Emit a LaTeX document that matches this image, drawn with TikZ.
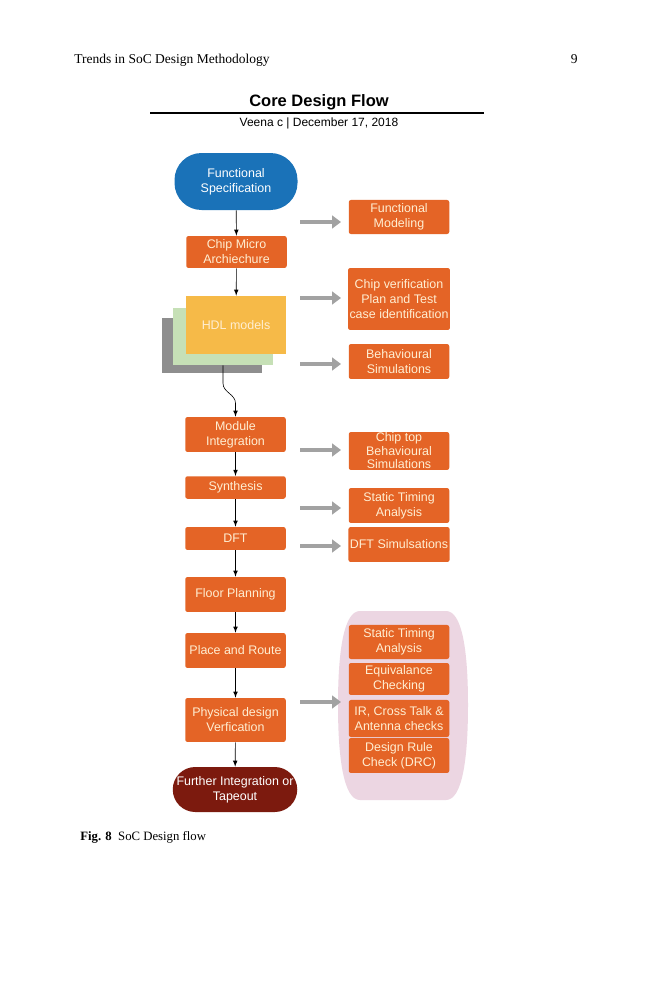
\documentclass[tikz,border=0pt]{standalone}
\usepackage{fontspec}
\setmainfont{Liberation Serif}
\setsansfont{Liberation Sans}
\usetikzlibrary{arrows,arrows.meta}

\definecolor{specblue}{RGB}{26,114,184}
\definecolor{steporange}{RGB}{228,100,38}
\definecolor{tapered}{RGB}{124,26,14}
\definecolor{hdlyellow}{RGB}{246,186,72}
\definecolor{hdlgreen}{RGB}{198,224,182}
\definecolor{hdlgray}{RGB}{142,142,142}
\definecolor{checkpink}{RGB}{236,214,226}
\definecolor{arrowgray}{RGB}{162,162,162}
\definecolor{boxtext}{RGB}{255,238,210}

\tikzset{
  boxfont/.style={font=\sffamily\fontsize{8.3}{10}\selectfont},
  stepbox/.style={boxfont, fill=steporange, rounded corners=1.5pt, text=boxtext,
    align=center, minimum width=67pt, inner sep=1pt},
  endbox/.style={boxfont, text=white, align=center, minimum width=82pt,
    minimum height=38pt, rounded corners=18pt, inner sep=1pt},
  flow/.style={-latex, thin},
  grayarrow/.style={draw=arrowgray, line width=2.3pt, -{Triangle[width=8.5pt,length=6pt]}},
}

\begin{document}
\begin{tikzpicture}[x=0.6667pt, y=-0.6667pt]
\useasboundingbox[fill=white] (0,0) rectangle (659,1000);

% PAGE HEAD
\node[anchor=base west, font=\fontsize{9}{11}\selectfont] (runhead) at (69,64) {Trends in SoC Design Methodology};
\node[anchor=base east, font=\fontsize{9}{11}\selectfont] (pageno) at (583,64) {9};

% TITLE
\node[font=\sffamily\bfseries\fontsize{11}{13}\selectfont] (title) at (319,102) {Core Design Flow};
\draw[line width=0.9pt] (150,113) -- (484,113);
\node[font=\sffamily\fontsize{8}{10}\selectfont] (author) at (319,123) {Veena c | December 17, 2018};

% MAIN FLOW
\node[endbox, fill=specblue] (spec) at (236,181.5) {Functional\\Specification};
\node[stepbox, minimum height=21.3pt] (arch) at (236.5,252) {Chip Micro\\Archiechure};

\node[fill=hdlgray, minimum width=66.7pt, minimum height=36.7pt] (hdlback) at (212,345.5) {};
\node[fill=hdlgreen, minimum width=66.7pt, minimum height=38pt] (hdlmid) at (223,336.5) {};
\node[boxfont, fill=hdlyellow, text=boxtext, minimum width=66.7pt, minimum height=38.7pt] (hdl) at (236,325) {HDL models};

\node[stepbox, minimum height=23.3pt] (modint) at (235.5,434.5) {Module\\Integration};
\node[stepbox, minimum height=15pt] (synth) at (235.5,487.5) {Synthesis};
\node[stepbox, minimum height=15.3pt] (dft) at (235.5,538.5) {DFT};
\node[stepbox, minimum height=23.3pt] (floor) at (235.5,594.5) {Floor Planning};
\node[stepbox, minimum height=23.3pt] (pnr) at (235.5,650.5) {Place and Route};
\node[stepbox, minimum height=29.3pt] (pdv) at (235.5,720) {Physical design\\Verfication};
\node[endbox, fill=tapered, minimum width=83pt, minimum height=30pt, rounded corners=15pt] (tape) at (235,789.5) {Further Integration or\\Tapeout};

\draw[flow] (spec) -- (arch);
\draw[flow] (arch) -- (hdl);
\draw[flow] (hdlmid.south) -- ++(0,18) to[out=-90, in=90] ++(12.5,20) -- (modint.north);
\draw[flow] (modint) -- (synth);
\draw[flow] (synth) -- (dft);
\draw[flow] (dft) -- (floor);
\draw[flow] (floor) -- (pnr);
\draw[flow] (pnr) -- (pdv);
\draw[flow] (pdv) -- (tape);

% SIDE TASKS
\node[stepbox, minimum height=22.7pt] (fmod) at (399,217) {Functional\\Modeling};
\node[stepbox, minimum height=41.3pt] (cvplan) at (399,299) {Chip verification\\Plan and Test\\case identification};
\node[stepbox, minimum height=23.3pt] (bsim) at (399,361.5) {Behavioural\\Simulations};
\node[stepbox, minimum height=25.3pt, inner sep=0pt, font=\sffamily\fontsize{8.3}{9}\selectfont] (ctop) at (399,451) {Chip top\\Behavioural\\Simulations};
\node[stepbox, minimum height=23.3pt] (sta) at (399,505.5) {Static Timing\\Analysis};
\node[stepbox, minimum height=23.3pt] (dftsim) at (399,544.5) {DFT Simulsations};

% SIGNOFF CHECKS
\fill[checkpink] (360,611) -- (446,611) .. controls (462,611) and (468,650) .. (468,705)
  .. controls (468,760) and (462,800) .. (446,800) -- (360,800)
  .. controls (344,800) and (338,760) .. (338,705)
  .. controls (338,650) and (344,611) .. (360,611) -- cycle;
\node[stepbox, minimum height=22.7pt] (sta2) at (399,642) {Static Timing\\Analysis};
\node[stepbox, minimum height=21.3pt] (eqc) at (399,679) {Equivalance\\Checking};
\node[stepbox, minimum height=24.7pt] (irc) at (399,718.5) {IR, Cross Talk \&\\Antenna checks};
\node[stepbox, minimum height=23.3pt] (drc) at (399,755.5) {Design Rule\\Check (DRC)};

% GRAY ARROWS
\foreach \y [count=\i] in {222,298,364,450,508,546,702}{
  \coordinate (ga\i) at (300,\y);
  \coordinate (gb\i) at (341,\y);
  \draw[grayarrow] (ga\i) -- (gb\i);
}

% CAPTION
\node[anchor=base west, font=\fontsize{8.5}{10}\selectfont] (caption) at (75,840) {\textbf{Fig. 8}\enspace SoC Design flow};

\end{tikzpicture}
\end{document}
